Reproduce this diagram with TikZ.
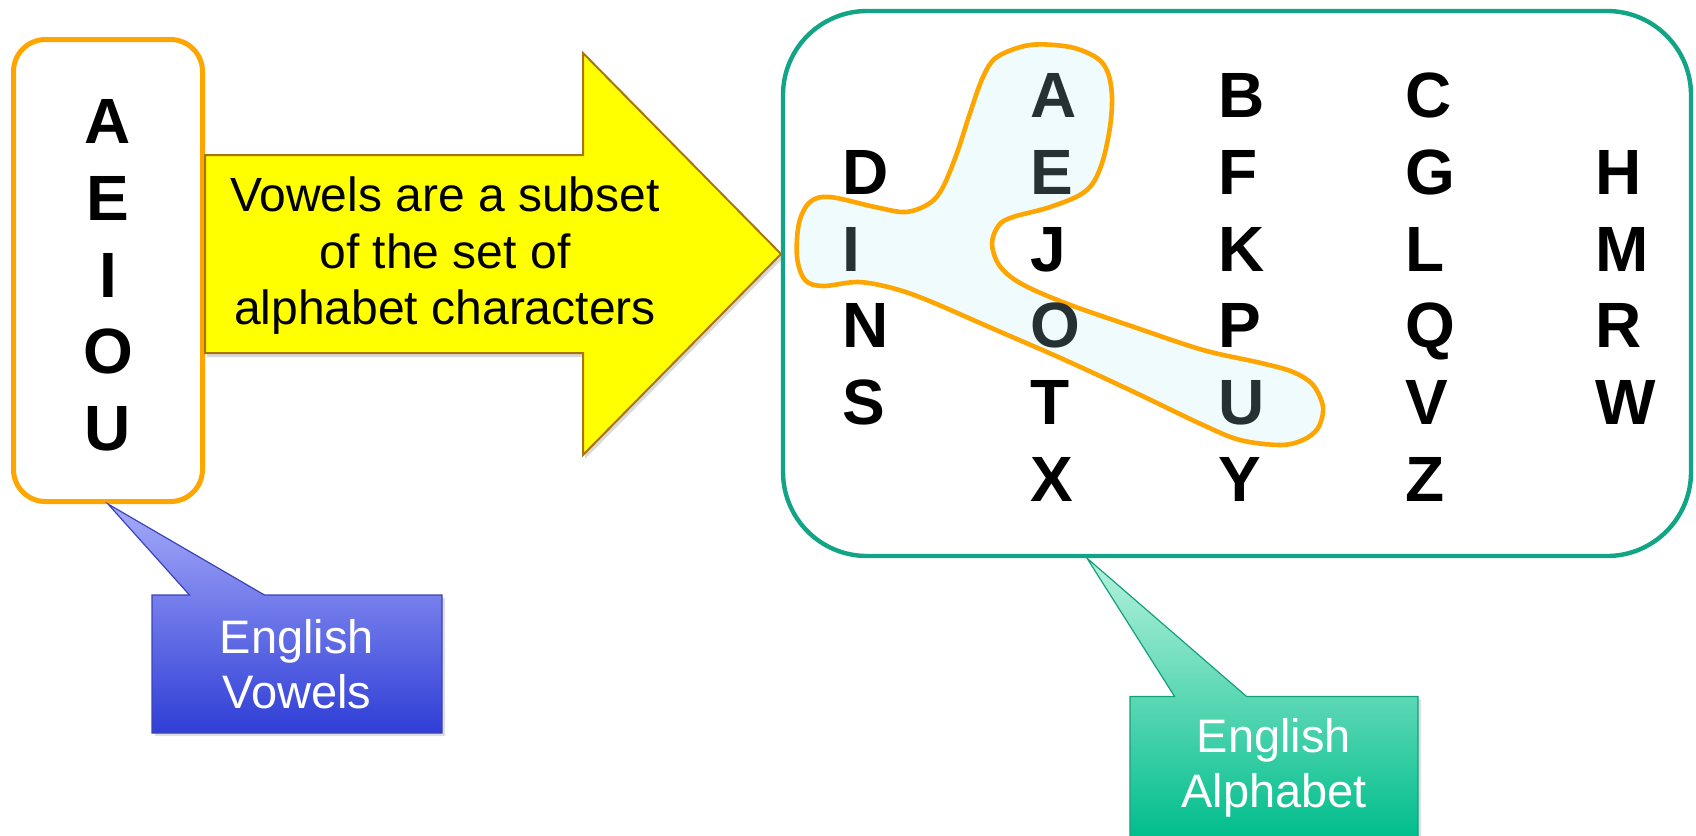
\documentclass[tikz,border=0pt]{standalone}
\usepackage{fontspec}
\setmainfont{Liberation Sans}
\usepackage{tikz}
\usetikzlibrary{positioning}
\usetikzlibrary{shapes.callouts}
\usetikzlibrary{shadows}

\definecolor{boxorange}{HTML}{FFA500}
\definecolor{boxteal}{HTML}{12A585}
\definecolor{blobfill}{HTML}{EFFBFC}
\definecolor{vowelgray}{HTML}{263133}
\definecolor{arrowyellow}{HTML}{FFFF00}
\definecolor{arrowedge}{HTML}{A8740E}
\definecolor{bluetop}{HTML}{A6ABFA}
\definecolor{bluebottom}{HTML}{2F3ED6}
\definecolor{blueedge}{HTML}{3A44B8}
\definecolor{tealtop}{HTML}{B6F2DC}
\definecolor{tealbottom}{HTML}{00BD8C}
\definecolor{tealedge}{HTML}{14A07E}

\begin{document}
\begin{tikzpicture}[x=0.5pt, y=-0.5pt,
    letter/.style={inner sep=0pt, anchor=base west, font=\fontsize{32}{38}\selectfont\bfseries},
    vowel/.style={letter, text=vowelgray},
    note/.style={rectangle callout, inner sep=0pt, align=center, text=white,
        font=\fontsize{23.5}{27.5}\selectfont,
        drop shadow={opacity=0.25, shadow xshift=1.5pt, shadow yshift=-1.5pt}}]

    \useasboundingbox (0,0) rectangle (1696,835);
    \clip (0,0) rectangle (1696,835);

    % Boxes
    \node at (108,270.5) (vowels) [draw=boxorange, line width=2.5pt, rounded corners=16pt, minimum width=94.5pt, minimum height=231pt] {};
    \node at (1237,283.5) (alphabet) [draw=boxteal, line width=2.2pt, rounded corners=42pt, minimum width=454pt, minimum height=272.5pt] {};

    % Letters of the left box
    \node at (108,143) (va) [letter, anchor=base] {A};
    \node at (108,220) (ve) [letter, anchor=base] {E};
    \node at (108,297) (vi) [letter, anchor=base] {I};
    \node at (108,373) (vo) [letter, anchor=base] {O};
    \node at (108,450) (vu) [letter, anchor=base] {U};

    % Outline round the vowels
    \draw[boxorange, line width=2.3pt, fill=blobfill] plot[smooth cycle, tension=0.55] coordinates {
        (997,57) (1030,45) (1070,47) (1097,58) (1108,73) (1112,97) (1110,127) (1103,160)
        (1093,183) (1078,196) (1047,208) (1013,217) (999,225) (992,243) (999,265) (1020,283)
        (1065,303) (1134,327) (1203,350) (1261,363) (1293,372) (1313,385) (1323,407) (1318,428)
        (1303,440) (1280,445) (1240,440) (1203,425) (1134,392) (1065,360) (996,330) (927,300)
        (892,288) (858,282) (823,286) (805,280) (797,257) (799,223) (810,202) (830,197)
        (875,207) (906,212) (930,203) (943,187) (957,153) (970,113) (983,77)};

    % Alphabet grid
    \node at (1030,117) (a) [vowel] {A};
    \node at (1218,117) (b) [letter] {B};
    \node at (1405,117) (c) [letter] {C};
    \node at (842,194) (d) [letter] {D};
    \node at (1030,194) (e) [vowel] {E};
    \node at (1218,194) (f) [letter] {F};
    \node at (1405,194) (g) [letter] {G};
    \node at (1595,194) (h) [letter] {H};
    \node at (842,271) (i) [vowel] {I};
    \node at (1030,271) (j) [letter] {J};
    \node at (1218,271) (k) [letter] {K};
    \node at (1405,271) (l) [letter] {L};
    \node at (1595,271) (m) [letter] {M};
    \node at (842,347) (n) [letter] {N};
    \node at (1030,347) (o) [vowel] {O};
    \node at (1218,347) (p) [letter] {P};
    \node at (1405,347) (q) [letter] {Q};
    \node at (1595,347) (r) [letter] {R};
    \node at (842,424) (s) [letter] {S};
    \node at (1030,424) (t) [letter] {T};
    \node at (1218,424) (u) [vowel] {U};
    \node at (1405,424) (v) [letter] {V};
    \node at (1595,424) (w) [letter] {W};
    \node at (1030,501) (x) [letter] {X};
    \node at (1218,501) (y) [letter] {Y};
    \node at (1405,501) (z) [letter] {Z};

    % Big arrow
    \draw[arrowedge, line width=1pt, fill=arrowyellow,
        drop shadow={opacity=0.3, shadow xshift=1pt, shadow yshift=-2pt}]
        (205,155) -- (583,155) -- (583,53) -- (781,254) -- (583,455) -- (583,353) -- (205,353) -- cycle;
    \node at (445,256) (subset) [align=center, font=\fontsize{24}{28.25}\selectfont] {Vowels are a subset\\of the set of\\alphabet characters};

    % Callouts
    \node at (297,664) (vowelnote) [note, callout absolute pointer={(vowels.south)}, callout pointer width=37.5pt,
        minimum width=145pt, minimum height=69pt, top color=bluetop, bottom color=bluebottom,
        draw=blueedge, line width=0.6pt] {English\\Vowels};
    \node at (1274,767.5) (alphanote) [note, callout absolute pointer={([xshift=-75pt]alphabet.south)}, callout pointer width=36pt,
        minimum width=144pt, minimum height=71pt, top color=tealtop, bottom color=tealbottom,
        draw=tealedge, line width=0.6pt] {English\\Alphabet};

\end{tikzpicture}
\end{document}
